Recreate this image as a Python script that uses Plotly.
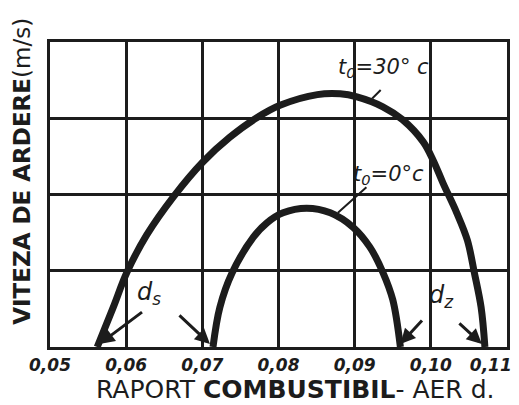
import plotly.graph_objects as go

# data (x = raport combustibil-aer, y = viteza, grid units)
x_30 = [0.0562, 0.0583, 0.0601, 0.0627, 0.0662, 0.0701, 0.0736, 0.0772, 0.0802, 0.0851, 0.0881,
        0.0903, 0.0937, 0.0963, 0.0990, 0.1003, 0.1016, 0.1034, 0.1048, 0.1057, 0.1066, 0.1071]
y_30 = [0.0, 0.52, 0.98, 1.47, 1.97, 2.43, 2.75, 3.01, 3.17, 3.31, 3.32,
        3.28, 3.15, 2.98, 2.69, 2.45, 2.15, 1.76, 1.40, 0.98, 0.52, 0.0]

x_0 = [0.0714, 0.0723, 0.0739, 0.0767, 0.0785, 0.0806, 0.0837, 0.0868, 0.0898, 0.0920, 0.0937, 0.0950, 0.0960]
y_0 = [0.0, 0.52, 0.97, 1.44, 1.63, 1.76, 1.82, 1.76, 1.57, 1.31, 0.98, 0.62, 0.0]

tick_vals = [0.05, 0.06, 0.07, 0.08, 0.09, 0.10, 0.11]
tick_text = ["0,05", "0,06", "0,07", "0,08", "0,09", "0,10", "0,11"]

ink = "#1c1c1c"
pad = "&nbsp;" * 6  # pulls the last label back inside the page

fig = go.Figure()
fig.add_trace(go.Scatter(x=x_30, y=y_30, mode="lines", line=dict(color=ink, width=7, shape="spline", smoothing=1.0)))
fig.add_trace(go.Scatter(x=x_0, y=y_0, mode="lines", line=dict(color=ink, width=7, shape="spline", smoothing=1.0)))

# page body has an 8px margin, so the figure is shrunk by that much
fig.update_layout(
    width=511, height=397,
    margin=dict(l=42, r=12, t=34, b=58),
    paper_bgcolor="white", plot_bgcolor="white",
    showlegend=False,
    font=dict(family="DejaVu Sans", color=ink),
)
labels = ["<b><i>%s</i></b>" % t for t in tick_text]
labels[-1] = labels[-1] + pad
fig.update_xaxes(
    range=[0.05, 0.11], tickvals=tick_vals, ticktext=labels,
    tickfont=dict(size=17, family="DejaVu Sans", color=ink),
    ticklabeloverflow="allow", automargin=False,
    showgrid=True, gridcolor=ink, gridwidth=3,
    showline=True, linecolor=ink, linewidth=3, mirror=True,
    zeroline=False, ticks="", ticklabelstandoff=1,
)
fig.update_yaxes(
    range=[0, 4], dtick=1, showticklabels=False, automargin=False,
    showgrid=True, gridcolor=ink, gridwidth=3,
    showline=True, linecolor=ink, linewidth=3, mirror=True,
    zeroline=False, ticks="",
)

# axis titles
fig.add_annotation(xref="paper", yref="paper", x=0.536, y=-0.14, xanchor="center", yanchor="middle",
                   text="RAPORT <b>COMBUSTIBIL</b>- AER d.", showarrow=False,
                   font=dict(size=25, family="DejaVu Sans", color=ink))
fig.add_annotation(xref="paper", yref="paper", x=-0.061, y=0.575, xanchor="center", yanchor="middle",
                   text="<b>VITEZA DE ARDERE</b>(m/s)", textangle=-90, showarrow=False,
                   font=dict(size=23, family="DejaVu Sans", color=ink))

# curve labels with leaders
fig.add_annotation(x=0.0923, y=3.26, ax=10, ay=-10, text="", showarrow=True, arrowhead=0, arrowwidth=2, arrowcolor=ink)
fig.add_annotation(x=0.0938, y=3.66, text="<i>t<sub>0</sub>=30° c</i>", showarrow=False,
                   font=dict(size=21, family="DejaVu Sans", color=ink))
fig.add_annotation(x=0.0878, y=1.76, ax=30, ay=-27, text="", showarrow=True, arrowhead=0, arrowwidth=2, arrowcolor=ink)
fig.add_annotation(x=0.0944, y=2.26, text="<i>t<sub>0</sub>=0°c</i>", showarrow=False,
                   font=dict(size=21, family="DejaVu Sans", color=ink))

# d_s and d_z arrows
fig.add_annotation(x=0.0630, y=0.70, text="<i>d<sub>s</sub></i>", showarrow=False,
                   font=dict(size=24, family="DejaVu Sans", color=ink))
fig.add_annotation(x=0.1014, y=0.66, text="<i>d<sub>z</sub></i>", showarrow=False,
                   font=dict(size=24, family="DejaVu Sans", color=ink))
for hx, dx, dy in [(0.0565, 44, -33), (0.0710, -32, -30), (0.0960, 23, -25), (0.1067, -24, -22)]:
    fig.add_annotation(x=hx, y=0.04, ax=dx, ay=dy, text="", showarrow=True, arrowhead=2,
                       arrowsize=1.0, arrowwidth=3, arrowcolor=ink)

fig.write_html("out.html")
